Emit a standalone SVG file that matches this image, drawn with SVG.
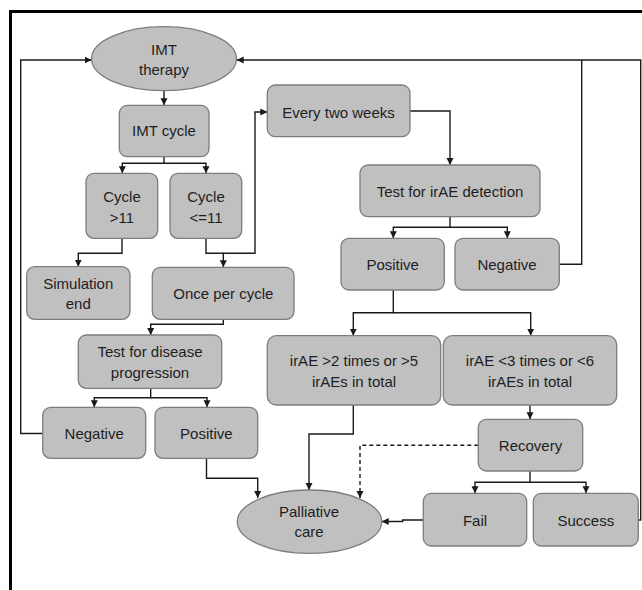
<svg xmlns="http://www.w3.org/2000/svg" width="642" height="590" viewBox="0 0 642 590">
<style>
.n{fill:#c0c0c0;stroke:#7d7d7d;stroke-width:1.3}
.t{font-family:"Liberation Sans",Arial,sans-serif;font-size:15px;fill:#1e1e1e;text-anchor:middle}
.c{fill:none;stroke:#1a1a1a;stroke-width:1.4}
.d{stroke-dasharray:4,3}
</style>
<defs>
<marker id="a" markerUnits="userSpaceOnUse" markerWidth="8" markerHeight="8" refX="7" refY="4" orient="auto">
<path d="M0,0.5 L7,4 L0,7.5 z" fill="#1a1a1a"/>
</marker>
</defs>
<rect width="642" height="590" fill="#fff"/>
<path d="M10.5,590 V11.5 H642" fill="none" stroke="#000" stroke-width="3"/>
<g id="connectors">
<path class="c" d="M164,90.7 V105.3" marker-end="url(#a)"/>
<path class="c" d="M164,156.7 V163.3 H122.3 V173.3" marker-end="url(#a)"/>
<path class="c" d="M164,163.3 H206 V173.3" marker-end="url(#a)"/>
<path class="c" d="M122,238.3 V253.3 H78.3 V266.7" marker-end="url(#a)"/>
<path class="c" d="M206,238.3 V253.3 H223.3 V267.3" marker-end="url(#a)"/>
<path class="c" d="M223.3,253.3 H255 V112 H267.3" marker-end="url(#a)"/>
<path class="c" d="M223.3,319.3 V324.3 H150.7 V335" marker-end="url(#a)"/>
<path class="c" d="M150.7,388.3 V397.7 H94.3 V407.3" marker-end="url(#a)"/>
<path class="c" d="M150.7,397.7 H207 V407.3" marker-end="url(#a)"/>
<path class="c" d="M42.7,433.5 H20.7 V60 H91.7" marker-end="url(#a)"/>
<path class="c" d="M206.5,458.3 V478.3 H257.7 V498" marker-end="url(#a)"/>
<path class="c" d="M410,111 H450 V165" marker-end="url(#a)"/>
<path class="c" d="M450,216.7 V227.3 H393.3 V238.3" marker-end="url(#a)"/>
<path class="c" d="M450,227.3 H507.3 V238.3" marker-end="url(#a)"/>
<path class="c" d="M559.3,264.3 H581.7 V60"/>
<path class="c" d="M638.3,520 H640.7 V60 H236.7" marker-end="url(#a)"/>
<path class="c" d="M393.3,290 V312.7 H353.3 V335.7" marker-end="url(#a)"/>
<path class="c" d="M393.3,312.7 H530.7 V335.7" marker-end="url(#a)"/>
<path class="c" d="M353.3,405 V434 H309 V490" marker-end="url(#a)"/>
<path class="c" d="M530,405 V419.3" marker-end="url(#a)"/>
<path class="c d" d="M478.3,445.3 H360 V498" marker-end="url(#a)"/>
<path class="c" d="M530,471 V482.3 H475 V493.3" marker-end="url(#a)"/>
<path class="c" d="M530,482.3 H586 V493.3" marker-end="url(#a)"/>
<path class="c" d="M423.3,520 H402.7 V521.5 H381.7" marker-end="url(#a)"/>
</g>
<g id="imt-therapy">
<ellipse class="n" cx="164" cy="58.7" rx="72.5" ry="32"/>
<text class="t" x="164" y="55">IMT</text>
<text class="t" x="164" y="75">therapy</text>
</g>
<g id="imt-cycle">
<rect class="n" x="119.3" y="105.3" width="89.7" height="51.4" rx="8"/>
<text class="t" x="164" y="136">IMT cycle</text>
</g>
<g id="cycle-gt11">
<rect class="n" x="86" y="173.3" width="71.7" height="65" rx="8"/>
<text class="t" x="122" y="202">Cycle</text>
<text class="t" x="122" y="223">&gt;11</text>
</g>
<g id="cycle-le11">
<rect class="n" x="170" y="173.3" width="71.7" height="65" rx="8"/>
<text class="t" x="206" y="202">Cycle</text>
<text class="t" x="206" y="223">&lt;=11</text>
</g>
<g id="simulation-end">
<rect class="n" x="26.7" y="266.7" width="103.3" height="52.6" rx="8"/>
<text class="t" x="78.3" y="288.5">Simulation</text>
<text class="t" x="78.3" y="308.5">end</text>
</g>
<g id="once-per-cycle">
<rect class="n" x="152.3" y="267.3" width="141.7" height="52" rx="8"/>
<text class="t" x="223.3" y="298.5">Once per cycle</text>
</g>
<g id="test-disease">
<rect class="n" x="78.3" y="335" width="143.4" height="53.3" rx="8"/>
<text class="t" x="150" y="357">Test for disease</text>
<text class="t" x="150" y="377.5">progression</text>
</g>
<g id="negative-left">
<rect class="n" x="42.7" y="407.3" width="103" height="51" rx="8"/>
<text class="t" x="94.2" y="438.5">Negative</text>
</g>
<g id="positive-left">
<rect class="n" x="155" y="407.3" width="102.7" height="51" rx="8"/>
<text class="t" x="206.3" y="438.5">Positive</text>
</g>
<g id="palliative-care">
<ellipse class="n" cx="309.5" cy="521.7" rx="72.2" ry="31.7"/>
<text class="t" x="309" y="517">Palliative</text>
<text class="t" x="309" y="537">care</text>
</g>
<g id="every-two-weeks">
<rect class="n" x="267.3" y="85" width="142.7" height="51.7" rx="8"/>
<text class="t" x="338.5" y="117.5">Every two weeks</text>
</g>
<g id="test-irae">
<rect class="n" x="360" y="165" width="180" height="51.7" rx="8"/>
<text class="t" x="450" y="197">Test for irAE detection</text>
</g>
<g id="positive-right">
<rect class="n" x="341" y="238.3" width="103.3" height="51.7" rx="8"/>
<text class="t" x="392.7" y="269.5">Positive</text>
</g>
<g id="negative-right">
<rect class="n" x="455" y="238.3" width="104.3" height="51.7" rx="8"/>
<text class="t" x="507" y="269.5">Negative</text>
</g>
<g id="irae-gt2">
<rect class="n" x="267.3" y="335.7" width="173.4" height="69.3" rx="9"/>
<text class="t" x="354" y="366">irAE &gt;2 times or &gt;5</text>
<text class="t" x="354" y="387">irAEs in total</text>
</g>
<g id="irae-lt3">
<rect class="n" x="443.3" y="335.7" width="173.4" height="69.3" rx="9"/>
<text class="t" x="530" y="366">irAE &lt;3 times or &lt;6</text>
<text class="t" x="530" y="387">irAEs in total</text>
</g>
<g id="recovery">
<rect class="n" x="478.3" y="419.3" width="104.4" height="51.7" rx="8"/>
<text class="t" x="530.5" y="451">Recovery</text>
</g>
<g id="fail">
<rect class="n" x="423.3" y="493.3" width="103.4" height="52.7" rx="8"/>
<text class="t" x="475" y="525.5">Fail</text>
</g>
<g id="success">
<rect class="n" x="533.3" y="493.3" width="105" height="52.7" rx="8"/>
<text class="t" x="585.8" y="525.5">Success</text>
</g>
</svg>
